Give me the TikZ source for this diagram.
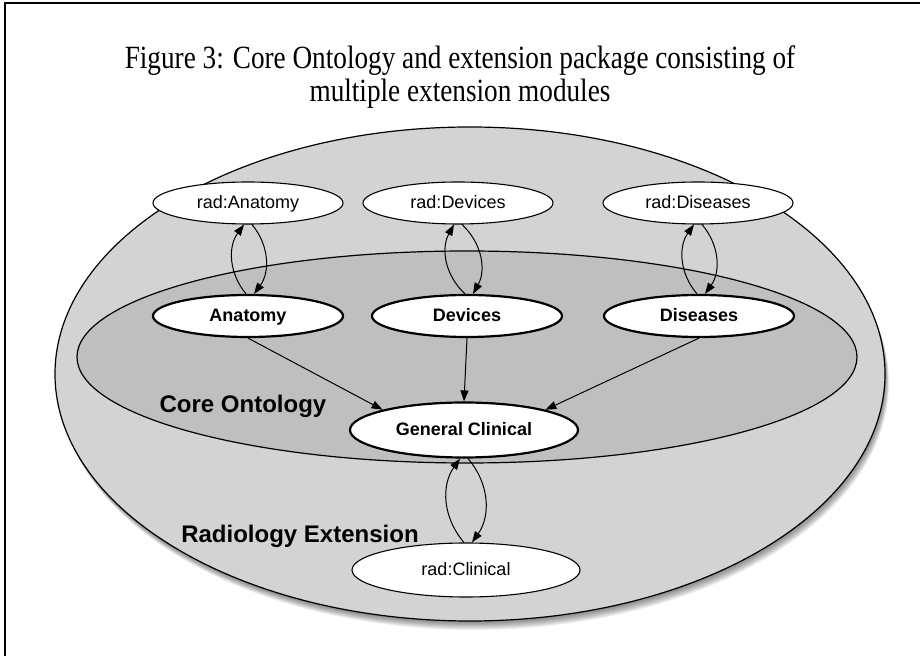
\documentclass[tikz,border=0pt]{standalone}
\usepackage{fontspec}
\setmainfont{Liberation Serif}
\setsansfont{Liberation Sans}
\newfontfamily\captionfont[FakeStretch=0.84]{Liberation Serif}
\usetikzlibrary{arrows.meta,shapes.geometric}
\definecolor{pkgfill}{RGB}{211,211,211}
\definecolor{corefill}{RGB}{191,191,191}
\begin{document}
\begin{tikzpicture}[x=0.5pt,y=-0.5pt,
  module/.style={ellipse,draw=black,fill=white,line width=0.55pt,inner sep=0pt,
    minimum width=95pt,minimum height=21pt,text height=1.5ex,text depth=0.25ex,
    font=\sffamily\fontsize{9}{10}\selectfont},
  coremod/.style={module,line width=1.1pt,
    font=\sffamily\bfseries\fontsize{9}{10}\selectfont},
  link/.style={-{Triangle[length=5.5pt,width=4pt]},line width=0.5pt},
  region/.style={font=\sffamily\bfseries\fontsize{12}{14}\selectfont}]
\useasboundingbox (0,0) rectangle (920,656);
\fill[white] (0,0) rectangle (920,656);

% open frame: top and left edges only
\draw[line width=1pt] (920,3) -- (5,3) -- (5,656);

% caption
\node[align=center,font=\captionfont\fontsize{16.2}{16.5}\selectfont] (title) at (460,77)
  {Figure 3: Core Ontology and extension package consisting of\\multiple extension modules};

% soft shadow under the extension package
\foreach \i in {1,...,10}
  \fill[black,opacity=0.055] (470+0.4*\i,374+0.9*\i) ellipse [x radius=415, y radius=247];

% extension package and core ontology regions
\draw[fill=pkgfill,line width=0.6pt] (470,374) ellipse [x radius=415, y radius=247];
\draw[fill=corefill,line width=0.6pt] (467,357) ellipse [x radius=390, y radius=106];

\node[region] (corelbl) at (243,406) {Core Ontology};
\node[region] (radlbl) at (300,536) {Radiology Extension};

% extension modules
\node[module] (ranat) at (248,203) {rad:Anatomy};
\node[module] (rdev)  at (458,203) {rad:Devices};
\node[module] (rdis)  at (698,203) {rad:Diseases};
\node[module,minimum width=114pt,minimum height=27pt] (rclin) at (466,570) {rad:Clinical};

% core modules
\node[coremod] (anat) at (248,316) {Anatomy};
\node[coremod] (dev)  at (467,316) {Devices};
\node[coremod] (dis)  at (699,316) {Diseases};
\node[coremod,minimum width=114pt,minimum height=27.5pt] (gc) at (464,430) {General Clinical};

% dependencies on General Clinical
\draw[link] (anat.south) -- (gc.north west);
\draw[link] (dev.south) -- (gc.north);
\draw[link] (dis.south) -- (gc.north east);

% paired links between core and extension modules
\foreach \lo/\hi in {anat/ranat, dev/rdev, dis/rdis, rclin/gc}{
  \draw[link] ([xshift=-1pt]\lo.north) to[bend left=38] ([xshift=-2pt]\hi.south);
  \draw[link] ([xshift=2pt]\hi.south) to[bend left=38] ([xshift=3pt]\lo.north);
}
\end{tikzpicture}
\end{document}
